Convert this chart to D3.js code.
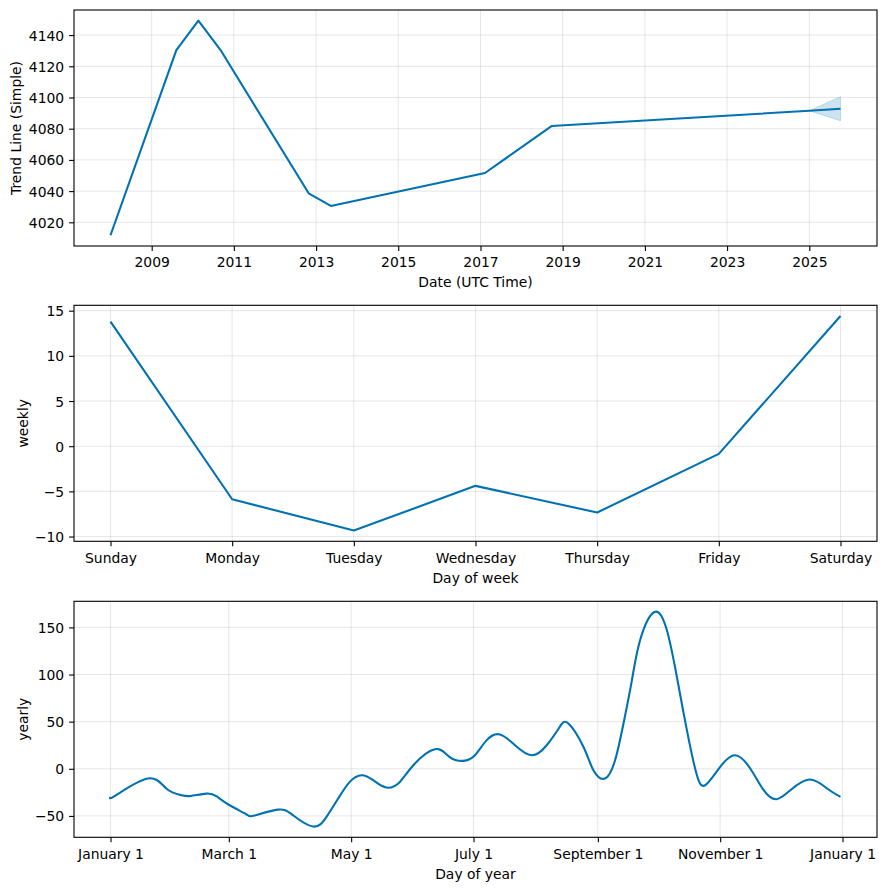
<!DOCTYPE html>
<html>
<head>
<meta charset="utf-8">
<script src="https://cdn.jsdelivr.net/npm/d3@7"></script>
<style>
  html, body { margin: 0; padding: 0; background: #fff; }
  svg text { font-family: "DejaVu Sans", sans-serif; font-size: 13.9px; fill: #000; }
</style>
</head>
<body>
<svg id="chart" width="886" height="890"></svg>
<script>
// ---------- DATA ----------
const trendDates  = ["2008-01-01","2009-08-08","2010-02-20","2010-09-05","2012-10-27","2013-05-12","2017-02-10","2018-09-24","2025-01-01","2025-10-05"];
const trendValues = [4011.7, 4130.4, 4149.2, 4130.4, 4038.6, 4030.5, 4051.6, 4081.7, 4091.5, 4092.8];
const bandDates   = ["2025-01-01","2025-10-05"];
const bandUpper   = [4091.5, 4100.5];
const bandLower   = [4091.5, 4085.1];
const trendYearTicks = [2009, 2011, 2013, 2015, 2017, 2019, 2021, 2023, 2025];
const trendValueTicks = [4020, 4040, 4060, 4080, 4100, 4120, 4140];

const weekDays = ["Sunday","Monday","Tuesday","Wednesday","Thursday","Friday","Saturday"];
const weeklyValues = [13.78, -5.87, -9.34, -4.39, -7.34, -0.85, 14.41];
const weeklyTicks = [-10, -5, 0, 5, 10, 15];

const yearlyDays = [0, 2.8, 18.6, 27.8, 35.3, 40, 47.8, 52.8, 59.4, 67.7, 71.9, 83.5, 91, 101, 107.7, 113.5, 119.3, 125.2, 131, 137.6, 144.3, 151, 161.8, 169, 175.9, 181.7, 187.6, 194.2, 201.7, 210, 217.5, 223.8, 228.3, 235.8, 240.8, 246.6, 251.6, 255.8, 260, 264.1, 271.2, 277.4, 282.4, 287.4, 292.4, 296.8, 304, 311.5, 319, 325.7, 332, 339, 348.6, 357.3, 364];
const yearlyValues = [-29.8, -28, -10.3, -20.9, -28, -28.8, -26.3, -29.1, -38.7, -48.2, -49.6, -43.3, -49.3, -61.3, -51, -31.6, -13.9, -6.8, -12.1, -19.9, -13.9, 3.8, 20.8, 12.7, 8.4, 14.4, 30.4, 36.4, 25, 14.4, 25, 43.8, 48.1, 23.3, -1.5, -10.3, 9.1, 48.1, 94.1, 136.6, 166.3, 147.2, 97.6, 41, -6.8, -17, 2, 14.4, 0.3, -22.7, -32.3, -22.7, -11.4, -20.9, -29.8];
const yearlyMonthTicks = ["2017-01-01","2017-03-01","2017-05-01","2017-07-01","2017-09-01","2017-11-01","2018-01-01"];
const yearlyValueTicks = [-50, 0, 50, 100, 150];
const yearStart = "2017-01-01";

// ---------- STYLE ----------
const COLOR = "#0072B2";
const L = 74, R = 877;
const panels = [
  { top: 10, bottom: 246 },
  { top: 305.3, bottom: 541.3 },
  { top: 601.3, bottom: 837.3 }
];
const svg = d3.select("#chart");
const minus = s => String(s).replace("-", "\u2212");

function padded(ext) {
  const p = (ext[1] - ext[0]) * 0.05;
  return [ext[0] - p, ext[1] + p];
}

function drawPanel(p, x, y, xTickVals, xFmt, yTickVals, yFmt, xLabel, yLabel, yLabelX) {
  const g = svg.append("g");
  const id = "clip" + Math.round(p.top);
  svg.append("clipPath").attr("id", id).append("rect")
    .attr("x", L).attr("y", p.top).attr("width", R - L).attr("height", p.bottom - p.top);
  const grid = g.append("g").attr("stroke", "gray").attr("stroke-opacity", 0.2).attr("stroke-width", 1);
  xTickVals.forEach(v => {
    const xx = x(v);
    grid.append("line").attr("x1", xx).attr("x2", xx).attr("y1", p.top).attr("y2", p.bottom);
  });
  yTickVals.forEach(v => {
    const yy = y(v);
    grid.append("line").attr("x1", L).attr("x2", R).attr("y1", yy).attr("y2", yy);
  });
  const xAxis = d3.axisBottom(x).tickValues(xTickVals).tickFormat(xFmt).tickSizeInner(4.9).tickSizeOuter(0).tickPadding(4.9);
  const yAxis = d3.axisLeft(y).tickValues(yTickVals).tickFormat(yFmt).tickSizeInner(4.9).tickSizeOuter(0).tickPadding(4.9);
  const gx = svg.append("g").attr("transform", `translate(0,${p.bottom})`).call(xAxis);
  const gy = svg.append("g").attr("transform", `translate(${L},0)`).call(yAxis);
  [gx, gy].forEach(a => {
    a.select(".domain").remove();
    a.selectAll(".tick line").attr("stroke", "#000").attr("stroke-width", 1.1);
    a.selectAll(".tick text").attr("font-family", "DejaVu Sans").attr("font-size", 13.9).attr("fill", "#000");
  });
  gx.selectAll(".tick text").attr("dy", null).attr("dominant-baseline", "central").attr("y", 16.3);
  gy.selectAll(".tick text").attr("dy", null).attr("dominant-baseline", "central");
  svg.append("text").attr("x", (L + R) / 2).attr("y", p.bottom + 36.3)
    .attr("text-anchor", "middle").attr("dominant-baseline", "central").text(xLabel);
  svg.append("text").attr("transform", `translate(${yLabelX},${(p.top + p.bottom) / 2}) rotate(-90)`)
    .attr("text-anchor", "middle").attr("dominant-baseline", "central").text(yLabel);
  return { g, clip: id };
}

function frame(p) {
  svg.append("rect").attr("x", L).attr("y", p.top).attr("width", R - L).attr("height", p.bottom - p.top)
    .attr("fill", "none").attr("stroke", "#000").attr("stroke-width", 1.1);
}

// ---------- PANEL 1: trend ----------
{
  const p = panels[0];
  const dates = trendDates.map(d => new Date(d + "T00:00:00Z"));
  const bDates = bandDates.map(d => new Date(d + "T00:00:00Z"));
  const xExt = padded(d3.extent(dates, d => +d));
  const x = d3.scaleUtc().domain(xExt.map(v => new Date(v))).range([L, R]);
  const yExt = padded([Math.min(d3.min(trendValues), d3.min(bandLower)), Math.max(d3.max(trendValues), d3.max(bandUpper))]);
  const y = d3.scaleLinear().domain(yExt).range([p.bottom, p.top]);
  const xt = trendYearTicks.map(yv => new Date(Date.UTC(yv, 0, 1)));
  const { g, clip } = drawPanel(p, x, y, xt, d3.utcFormat("%Y"), trendValueTicks, d => d, "Date (UTC Time)", "Trend Line (Simple)", 16);
  const area = d3.area().x((d, i) => x(bDates[i])).y0((d, i) => y(bandLower[i])).y1((d, i) => y(bandUpper[i]));
  g.append("path").datum(bandDates).attr("d", area).attr("fill", COLOR).attr("fill-opacity", 0.2)
    .attr("stroke", COLOR).attr("stroke-opacity", 0.2).attr("stroke-width", 1).attr("clip-path", `url(#${clip})`);
  const line = d3.line().x((d, i) => x(dates[i])).y((d, i) => y(trendValues[i]));
  g.append("path").datum(trendValues).attr("d", line).attr("fill", "none").attr("stroke", COLOR)
    .attr("stroke-width", 2.1).attr("stroke-linejoin", "round").attr("clip-path", `url(#${clip})`);
  frame(p);
}

// ---------- PANEL 2: weekly ----------
{
  const p = panels[1];
  const idx = weekDays.map((d, i) => i);
  const x = d3.scaleLinear().domain(padded([0, weekDays.length - 1])).range([L, R]);
  const y = d3.scaleLinear().domain(padded(d3.extent(weeklyValues))).range([p.bottom, p.top]);
  const { g, clip } = drawPanel(p, x, y, idx, i => weekDays[i], weeklyTicks, d => minus(d), "Day of week", "weekly", 23);
  const line = d3.line().x((d, i) => x(i)).y(d => y(d));
  g.append("path").datum(weeklyValues).attr("d", line).attr("fill", "none").attr("stroke", COLOR)
    .attr("stroke-width", 2.1).attr("stroke-linejoin", "round").attr("clip-path", `url(#${clip})`);
  frame(p);
}

// ---------- PANEL 3: yearly ----------
{
  const p = panels[2];
  const t0 = +new Date(yearStart + "T00:00:00Z");
  const day = 86400000;
  const dates = yearlyDays.map(d => new Date(t0 + d * day));
  const xExt = padded([t0, t0 + 364 * day]);
  const x = d3.scaleUtc().domain(xExt.map(v => new Date(v))).range([L, R]);
  const y = d3.scaleLinear().domain(padded(d3.extent(yearlyValues))).range([p.bottom, p.top]);
  const xt = yearlyMonthTicks.map(d => new Date(d + "T00:00:00Z"));
  const { g, clip } = drawPanel(p, x, y, xt, d3.utcFormat("%B %-d"), yearlyValueTicks, d => minus(d), "Day of year", "yearly", 23);
  const line = d3.line().curve(d3.curveNatural).x((d, i) => x(dates[i])).y(d => y(d));
  g.append("path").datum(yearlyValues).attr("d", line).attr("fill", "none").attr("stroke", COLOR)
    .attr("stroke-width", 2.1).attr("stroke-linejoin", "round").attr("clip-path", `url(#${clip})`);
  frame(p);
}
</script>
</body>
</html>
